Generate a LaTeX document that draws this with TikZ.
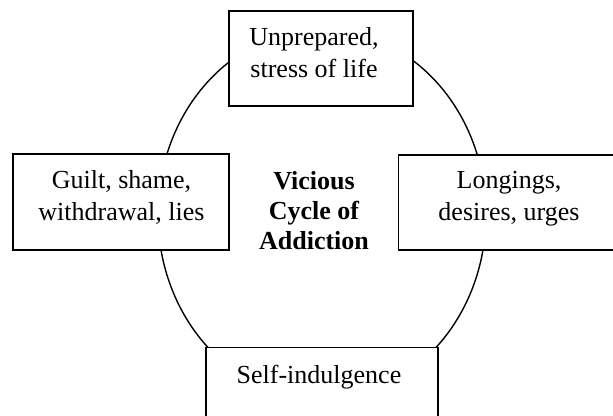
\documentclass[tikz,border=0pt]{standalone}
\usepackage{fontspec}
\setmainfont{Liberation Serif}
\begin{document}
\begin{tikzpicture}[x=1pt,y=-1pt,
  boxstyle/.style={draw=black,line width=1.5pt,fill=white,inner sep=0pt,rectangle},
  lbl/.style={font=\fontsize{26}{32}\selectfont,align=center,anchor=base,inner sep=0pt},
  ring/.style={draw=black,line width=1.4pt}]
\useasboundingbox (0,0) rectangle (613,415);
\clip (0,0) rectangle (613,415);
\fill[white] (0,0) rectangle (613,415);
\draw[ring] (322,214.5) ellipse [x radius=164, y radius=185];
\node[boxstyle,minimum width=184pt,minimum height=95pt] (top) at (321,58.5) {};
\node[boxstyle,minimum width=216pt,minimum height=96pt] (left) at (121,202) {};
\node[boxstyle,minimum width=240pt,minimum height=95pt,anchor=north west] (right) at (397.5,154) {};
\node[boxstyle,minimum width=232pt,minimum height=100pt,anchor=north west] (bottom) at (205,346.5) {};
\node[lbl] (toptext) at (314,77) {Unprepared,\\stress of life};
\node[lbl] (lefttext) at (121.5,220) {Guilt, shame,\\withdrawal, lies};
\node[lbl] (righttext) at (509,220) {Longings,\\desires, urges};
\node[lbl] (bottomtext) at (319,383) {Self-indulgence};
\node[lbl,font=\fontsize{26}{30}\selectfont\bfseries] (centertext) at (314,249) {Vicious\\Cycle of\\Addiction};
\end{tikzpicture}
\end{document}
